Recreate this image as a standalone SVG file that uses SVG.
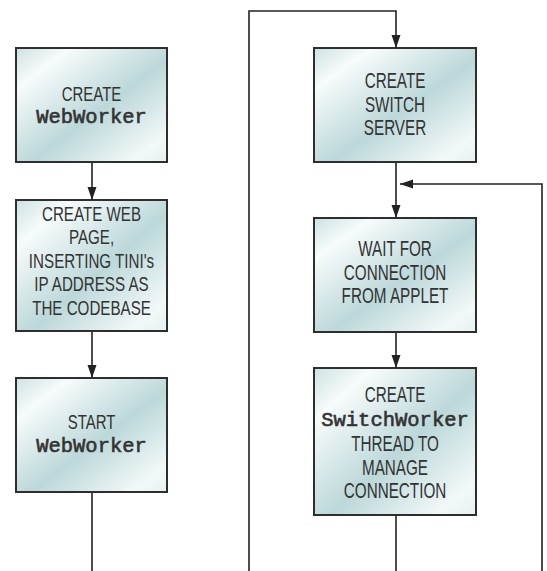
<svg xmlns="http://www.w3.org/2000/svg" width="547" height="571" viewBox="0 0 547 571">
<style>
.box{stroke:#2e2e2e;stroke-width:2;fill:url(#fillg)}
.t{font-family:"Liberation Sans",Arial,sans-serif;font-size:21.5px;fill:#333;text-anchor:middle}
.s{font-family:"Liberation Sans",Arial,sans-serif;font-size:20.5px;fill:#333;text-anchor:middle}
.m{font-family:"Liberation Mono","Courier New",monospace;font-size:20.5px;fill:#333;stroke:#333;stroke-width:0.6;text-anchor:middle}
.c{fill:none;stroke:#222;stroke-width:1.6}
</style>
<defs>
<linearGradient id="fillg" x1="0" y1="0" x2="1" y2="1">
<stop offset="0" stop-color="#cde2e2"/>
<stop offset="0.18" stop-color="#f7fbfb"/>
<stop offset="0.55" stop-color="#bcd8d9"/>
<stop offset="0.88" stop-color="#f2f8f8"/>
<stop offset="1" stop-color="#e6f1f1"/>
</linearGradient>
<marker id="arr" markerUnits="userSpaceOnUse" markerWidth="13" markerHeight="10" refX="13" refY="5" orient="auto">
<path d="M0,0.5 L13,5 L0,9.5 z" fill="#222"/>
</marker>
</defs>
<rect width="547" height="571" fill="#fff"/>

<g id="connectors">
<line class="c" x1="92" y1="162" x2="92" y2="200" marker-end="url(#arr)"/>
<line class="c" x1="92" y1="331" x2="92" y2="378" marker-end="url(#arr)"/>
<line class="c" x1="92" y1="492" x2="92" y2="571"/>
<path class="c" d="M249,571 V11 H396 V48" marker-end="url(#arr)"/>
<line class="c" x1="396" y1="162" x2="396" y2="218" marker-end="url(#arr)"/>
<path class="c" d="M542,571 V184 H400" marker-end="url(#arr)"/>
<line class="c" x1="396" y1="332" x2="396" y2="368" marker-end="url(#arr)"/>
<line class="c" x1="396" y1="515" x2="396" y2="571"/>
</g>

<g id="create-webworker">
<rect class="box" x="16" y="48" width="151" height="114"/>
<text class="s" transform="translate(91.5,0) scale(0.73,1)" x="0" y="101">CREATE</text>
<text class="m" x="91.5" y="123">WebWorker</text>
</g>

<g id="create-web-page">
<rect class="box" x="16" y="200" width="151" height="131"/>
<g transform="translate(91.5,0) scale(0.74,1)">
<text class="s" x="0" y="221">CREATE WEB</text>
<text class="s" x="0" y="244.5">PAGE,</text>
<text class="s" x="0" y="268">INSERTING TINI's</text>
<text class="s" x="0" y="291.5">IP ADDRESS AS</text>
<text class="s" x="0" y="315">THE CODEBASE</text>
</g>
</g>

<g id="start-webworker">
<rect class="box" x="16" y="378" width="151" height="114"/>
<text class="s" transform="translate(91.5,0) scale(0.73,1)" x="0" y="429">START</text>
<text class="m" x="91.5" y="452">WebWorker</text>
</g>

<g id="create-switch-server">
<rect class="box" x="314" y="48" width="162" height="114"/>
<g transform="translate(395,0) scale(0.71,1)">
<text class="t" x="0" y="88">CREATE</text>
<text class="t" x="0" y="112">SWITCH</text>
<text class="t" x="0" y="135">SERVER</text>
</g>
</g>

<g id="wait-for-connection">
<rect class="box" x="314" y="218" width="162" height="114"/>
<g transform="translate(395,0) scale(0.71,1)">
<text class="t" x="0" y="256">WAIT FOR</text>
<text class="t" x="0" y="280">CONNECTION</text>
<text class="t" x="0" y="303">FROM APPLET</text>
</g>
</g>

<g id="create-switchworker">
<rect class="box" x="314" y="368" width="162" height="147"/>
<text class="t" transform="translate(395,0) scale(0.71,1)" x="0" y="402">CREATE</text>
<text class="m" x="395" y="426">SwitchWorker</text>
<g transform="translate(395,0) scale(0.71,1)">
<text class="t" x="0" y="451">THREAD TO</text>
<text class="t" x="0" y="475">MANAGE</text>
<text class="t" x="0" y="498">CONNECTION</text>
</g>
</g>
</svg>
